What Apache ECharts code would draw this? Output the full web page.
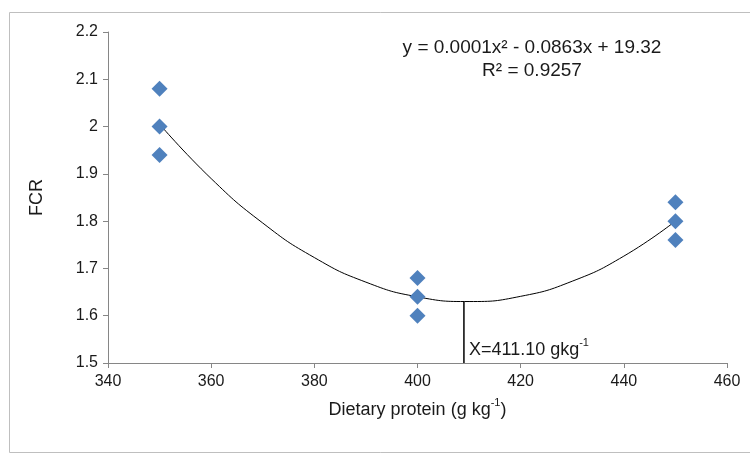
<!DOCTYPE html>
<html>
<head>
<meta charset="utf-8">
<script src="https://cdn.jsdelivr.net/npm/echarts@6/dist/echarts.min.js"></script>
<style>html,body{margin:0;padding:0;background:#fff;}#c{width:750px;height:457px;}</style>
</head>
<body>
<div id="c"></div>
<script>
// Observed data points (dietary protein g/kg, FCR)
var protein350 = [2.08, 2.00, 1.94];
var protein400 = [1.68, 1.64, 1.60];
var protein450 = [1.84, 1.80, 1.76];
var proteinLevels = [350, 400, 450];
// Trend curve
var curveX = [350, 360, 370, 380, 390, 400, 410, 420, 430, 440, 450];
var curveY = [2.005, 1.89, 1.796, 1.723, 1.671, 1.640, 1.630, 1.641, 1.673, 1.726, 1.800];
// Optimum marker line
var optX = 409;
var optY = [1.5, 1.63];
var xTicks = {min: 340, max: 460, interval: 20};
var yTicks = {min: 1.5, max: 2.2, interval: 0.1};

var points = [];
[protein350, protein400, protein450].forEach(function (arr, i) {
  arr.forEach(function (v) { points.push([proteinLevels[i], v]); });
});
var curve = curveX.map(function (x, i) { return [x, curveY[i]]; });

var font = 'Liberation Sans, Arial, sans-serif';
var txt = '#1a1a1a';
var chart = echarts.init(document.getElementById('c'));
chart.setOption({
  animation: false,
  grid: {left: 108, right: 23, top: 32, bottom: 94},
  xAxis: {
    type: 'value', min: xTicks.min, max: xTicks.max, interval: xTicks.interval,
    splitLine: {show: false},
    axisLine: {lineStyle: {color: '#868686'}},
    axisTick: {lineStyle: {color: '#868686'}, length: 5},
    axisLabel: {color: txt, fontSize: 16, fontFamily: font, margin: 11},
    name: '{n|Dietary protein (g kg}{s|-1}{n|)}',
    nameLocation: 'middle', nameGap: 34,
    nameTextStyle: {
      verticalAlign: 'top',
      rich: {
        n: {fontSize: 18, fontFamily: font, color: txt, lineHeight: 22, verticalAlign: 'bottom'},
        s: {fontSize: 11, fontFamily: font, color: txt, lineHeight: 22, verticalAlign: 'top'}
      }
    }
  },
  yAxis: {
    type: 'value', min: yTicks.min, max: yTicks.max, interval: yTicks.interval,
    splitLine: {show: false},
    axisLine: {show: true, lineStyle: {color: '#868686'}},
    axisTick: {show: true, lineStyle: {color: '#868686'}, length: 5},
    axisLabel: {color: txt, fontSize: 16, fontFamily: font, margin: 10,
      formatter: function (v) { return String(Math.round(v * 10) / 10); }},
    name: 'FCR', nameLocation: 'middle', nameGap: 62,
    nameTextStyle: {fontSize: 18, fontFamily: font, color: txt}
  },
  series: [
    {
      type: 'line', data: curve, smooth: true, showSymbol: false, symbol: 'none',
      lineStyle: {color: '#000', width: 1}, z: 2
    },
    {
      type: 'line', data: [[optX, optY[0]], [optX, optY[1]]], showSymbol: false, symbol: 'none',
      lineStyle: {color: '#000', width: 1.5}, z: 2
    },
    {
      type: 'scatter', data: [[optX, optY[0]]], symbolSize: 0,
      itemStyle: {opacity: 1},
      label: {
        show: true, position: 'right', offset: [0, -15], color: txt,
        formatter: '{n|X=411.10 gkg}{s|-1}',
        rich: {
          n: {fontSize: 18, fontFamily: font, color: txt, lineHeight: 22, verticalAlign: 'bottom'},
          s: {fontSize: 11, fontFamily: font, color: txt, lineHeight: 22, verticalAlign: 'top'}
        }
      }, z: 3
    },
    {
      type: 'scatter', data: points, symbol: 'diamond', symbolSize: [16, 16],
      itemStyle: {color: '#4F81BD', opacity: 1}, z: 4
    }
  ],
  graphic: [
    {type: 'rect', shape: {x: 9.5, y: 12.5, width: 750, height: 440},
      style: {fill: 'none', stroke: '#BFBFBF', lineWidth: 1}, silent: true},
    {type: 'text',
      style: {text: 'y = 0.0001x\u00B2 - 0.0863x + 19.32', x: 532, y: 48, align: 'center', verticalAlign: 'middle',
        font: '19px ' + font, fill: txt}},
    {type: 'text',
      style: {text: 'R\u00B2 = 0.9257', x: 532, y: 71, align: 'center', verticalAlign: 'middle',
        font: '19px ' + font, fill: txt}}
  ]
});
</script>
</body>
</html>
